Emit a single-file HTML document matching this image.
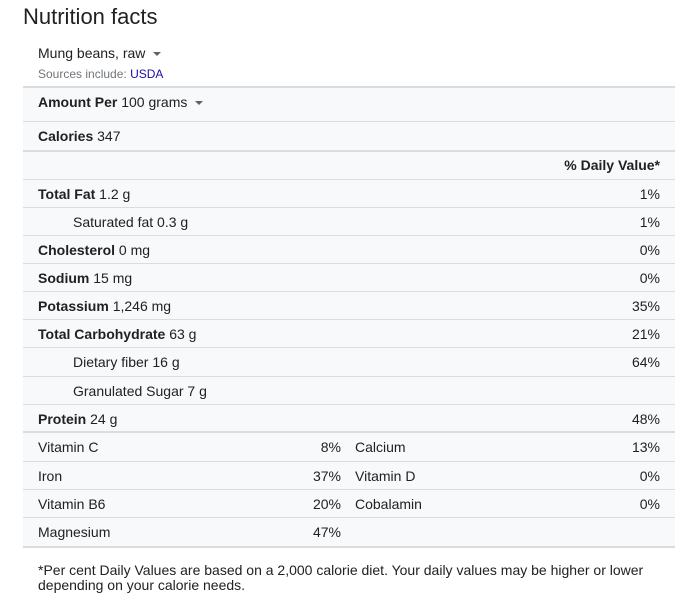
<!DOCTYPE html>
<html><head><meta charset="utf-8"><style>
body{margin:0;width:691px;height:605px;background:#fff;font-family:"Liberation Sans",Arial,sans-serif;color:#202124;position:relative;overflow:hidden}
.a{position:absolute;white-space:nowrap}
.row{position:absolute;left:23px;width:652px;background:#f8f9fa;border-top:1px solid #dadce0;box-sizing:border-box;font-size:14px}
.row span{position:absolute;top:50%;transform:translateY(-50%)}
.row span span{position:static;transform:none}
.thick{border-top:2px solid #dadce0}
.l{left:15px}.ind{left:50px}.r{right:15px}.m{right:334px}.c2{left:332px}
b{font-weight:bold}
.tri{display:inline-block;width:0;height:0;border-left:4px solid transparent;border-right:4px solid transparent;border-top:4px solid #5f6368;vertical-align:middle;margin-left:8px}
</style></head><body>
<div class="a" style="left:23px;top:4px;font-size:22px">Nutrition facts</div>
<div class="a" style="left:38px;top:45px;font-size:14px">Mung beans, raw<span class="tri"></span></div>
<div class="a" style="left:38px;top:67px;font-size:12px;color:#70757a">Sources include: <span style="color:#1a0dab">USDA</span></div>

<div class="row thick" style="top:86px;height:35px"><span class="l" style="margin-top:-3px"><b>Amount Per</b> 100 grams<span class="tri"></span></span></div>
<div class="row" style="top:121px;height:30px"><span class="l" style="margin-top:-1px"><b>Calories</b> 347</span></div>
<div class="row thick" style="top:150px;height:29px"><span class="r" style="margin-top:-1px"><b>% Daily Value*</b></span></div>
<div class="row" style="top:179px;height:28px"><span class="l"><b>Total Fat</b> 1.2 g</span><span class="r">1%</span></div>
<div class="row" style="top:207px;height:28px"><span class="ind">Saturated fat 0.3 g</span><span class="r">1%</span></div>
<div class="row" style="top:235px;height:28px"><span class="l"><b>Cholesterol</b> 0 mg</span><span class="r">0%</span></div>
<div class="row" style="top:263px;height:28px"><span class="l"><b>Sodium</b> 15 mg</span><span class="r">0%</span></div>
<div class="row" style="top:291px;height:28px"><span class="l"><b>Potassium</b> 1,246 mg</span><span class="r">35%</span></div>
<div class="row" style="top:319px;height:28px"><span class="l"><b>Total Carbohydrate</b> 63 g</span><span class="r">21%</span></div>
<div class="row" style="top:347px;height:29px"><span class="ind">Dietary fiber 16 g</span><span class="r">64%</span></div>
<div class="row" style="top:376px;height:28px"><span class="ind">Granulated Sugar 7 g</span></div>
<div class="row" style="top:404px;height:28px"><span class="l"><b>Protein</b> 24 g</span><span class="r">48%</span></div>
<div class="row thick" style="top:431px;height:30px"><span class="l">Vitamin C</span><span class="m">8%</span><span class="c2">Calcium</span><span class="r">13%</span></div>
<div class="row" style="top:461px;height:28px"><span class="l">Iron</span><span class="m">37%</span><span class="c2">Vitamin D</span><span class="r">0%</span></div>
<div class="row" style="top:489px;height:28px"><span class="l">Vitamin B6</span><span class="m">20%</span><span class="c2">Cobalamin</span><span class="r">0%</span></div>
<div class="row" style="top:517px;border-bottom:2px solid #dadce0;height:31px"><span class="l">Magnesium</span><span class="m">47%</span></div>
<div class="a" style="left:38px;top:563px;font-size:14px;line-height:15px;white-space:normal;width:630px">*Per cent Daily Values are based on a 2,000 calorie diet. Your daily values may be higher or lower depending on your calorie needs.</div>
</body></html>
